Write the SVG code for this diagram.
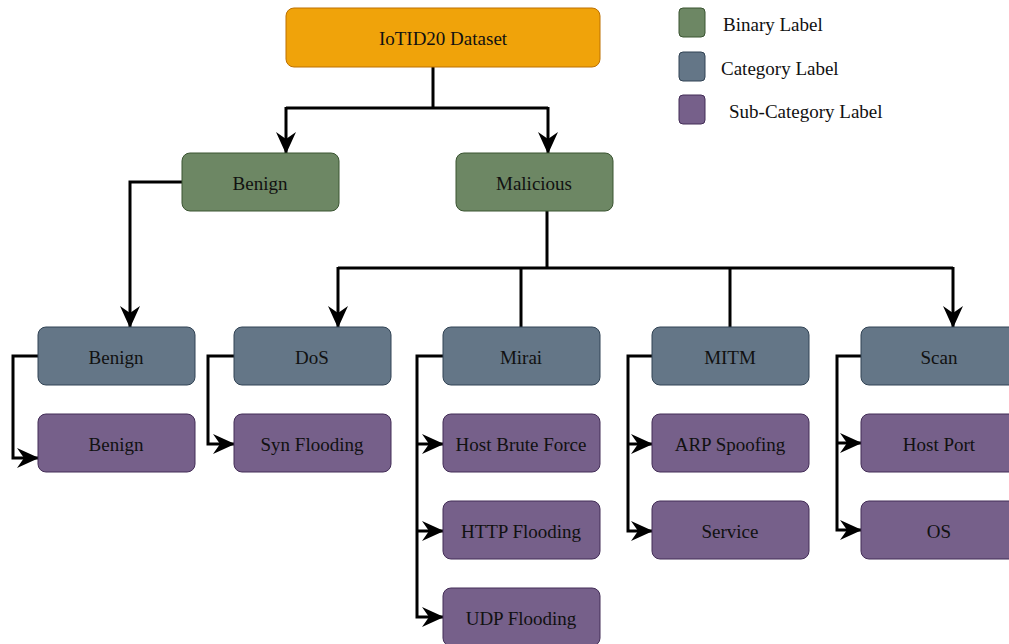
<svg xmlns="http://www.w3.org/2000/svg" width="1009" height="644" viewBox="0 0 1009 644">
<style>
text{font-family:"Liberation Serif","Times New Roman",serif;font-size:19px;fill:#111;text-anchor:middle;dominant-baseline:central}
.leg{text-anchor:start;font-size:19px}
.bin{fill:#6D8764;stroke:#3A5431;stroke-width:1}
.cat{fill:#647687;stroke:#314354;stroke-width:1}
.sub{fill:#76608A;stroke:#432D57;stroke-width:1}
.root{fill:#F0A30A;stroke:#BD7000;stroke-width:1}
.c{fill:none;stroke:#000;stroke-width:3;stroke-linejoin:miter}
.a{marker-end:url(#arr)}
</style>
<defs>
<marker id="arr" viewBox="0 0 22 20" refX="21" refY="10" markerWidth="22" markerHeight="20" markerUnits="userSpaceOnUse" orient="auto">
<path d="M0,0 L22,10 L0,20 L7,10 z" fill="#000"/>
</marker>
</defs>
<g id="connectors">
<path class="c" d="M433,67 V108 M286,108 H548"/>
<path class="c a" d="M286,107 V153"/>
<path class="c a" d="M548,107 V153"/>
<path class="c a" d="M182,182 H130 V327"/>
<path class="c" d="M547,211 V268 M338,268 H953"/>
<path class="c a" d="M338,267 V327"/>
<path class="c" d="M521,267 V327"/>
<path class="c" d="M730,267 V327"/>
<path class="c a" d="M953,267 V327"/>
<path class="c a" d="M38,356 H13 V458 H38"/>
<path class="c a" d="M234,356 H208 V444 H234"/>
<path class="c a" d="M443,356 H417 V617 H443"/>
<path class="c a" d="M417,444 H443"/>
<path class="c a" d="M417,531 H443"/>
<path class="c a" d="M652,356 H628 V531 H652"/>
<path class="c a" d="M628,444 H652"/>
<path class="c a" d="M861,356 H837 V530 H861"/>
<path class="c a" d="M837,443 H861"/>
</g>
<g id="root"><rect class="root" x="286" y="8" width="314" height="59" rx="8"/><text x="443" y="38">IoTID20 Dataset</text></g>
<g id="benign-bin"><rect class="bin" x="182" y="153" width="157" height="58" rx="8"/><text x="260" y="183">Benign</text></g>
<g id="malicious"><rect class="bin" x="456" y="153" width="157" height="58" rx="8"/><text x="534" y="183">Malicious</text></g>
<g id="benign-cat"><rect class="cat" x="38" y="327" width="157" height="58" rx="8"/><text x="116" y="357">Benign</text></g>
<g id="dos"><rect class="cat" x="234" y="327" width="157" height="58" rx="8"/><text x="312" y="357">DoS</text></g>
<g id="mirai"><rect class="cat" x="443" y="327" width="157" height="58" rx="8"/><text x="521" y="357">Mirai</text></g>
<g id="mitm"><rect class="cat" x="652" y="327" width="157" height="58" rx="8"/><text x="730" y="357">MITM</text></g>
<g id="scan"><rect class="cat" x="861" y="327" width="157" height="58" rx="8"/><text x="939" y="357">Scan</text></g>
<g id="benign-sub"><rect class="sub" x="38" y="414" width="157" height="58" rx="8"/><text x="116" y="444">Benign</text></g>
<g id="syn"><rect class="sub" x="234" y="414" width="157" height="58" rx="8"/><text x="312" y="444">Syn Flooding</text></g>
<g id="hbf"><rect class="sub" x="443" y="414" width="157" height="58" rx="8"/><text x="521" y="444">Host Brute Force</text></g>
<g id="http"><rect class="sub" x="443" y="501" width="157" height="58" rx="8"/><text x="521" y="531">HTTP Flooding</text></g>
<g id="udp"><rect class="sub" x="443" y="588" width="157" height="58" rx="8"/><text x="521" y="618">UDP Flooding</text></g>
<g id="arp"><rect class="sub" x="652" y="414" width="157" height="58" rx="8"/><text x="730" y="444">ARP Spoofing</text></g>
<g id="service"><rect class="sub" x="652" y="501" width="157" height="58" rx="8"/><text x="730" y="531">Service</text></g>
<g id="hostport"><rect class="sub" x="861" y="414" width="157" height="58" rx="8"/><text x="939" y="444">Host Port</text></g>
<g id="os"><rect class="sub" x="861" y="501" width="157" height="58" rx="8"/><text x="939" y="531">OS</text></g>
<g id="legend">
<rect class="bin" x="679" y="8" width="26" height="29" rx="4"/><text class="leg" x="723" y="24">Binary Label</text>
<rect class="cat" x="679" y="52" width="26" height="29" rx="4"/><text class="leg" x="721" y="68">Category Label</text>
<rect class="sub" x="679" y="95" width="26" height="29" rx="4"/><text class="leg" x="729" y="111">Sub-Category Label</text>
</g>
</svg>
